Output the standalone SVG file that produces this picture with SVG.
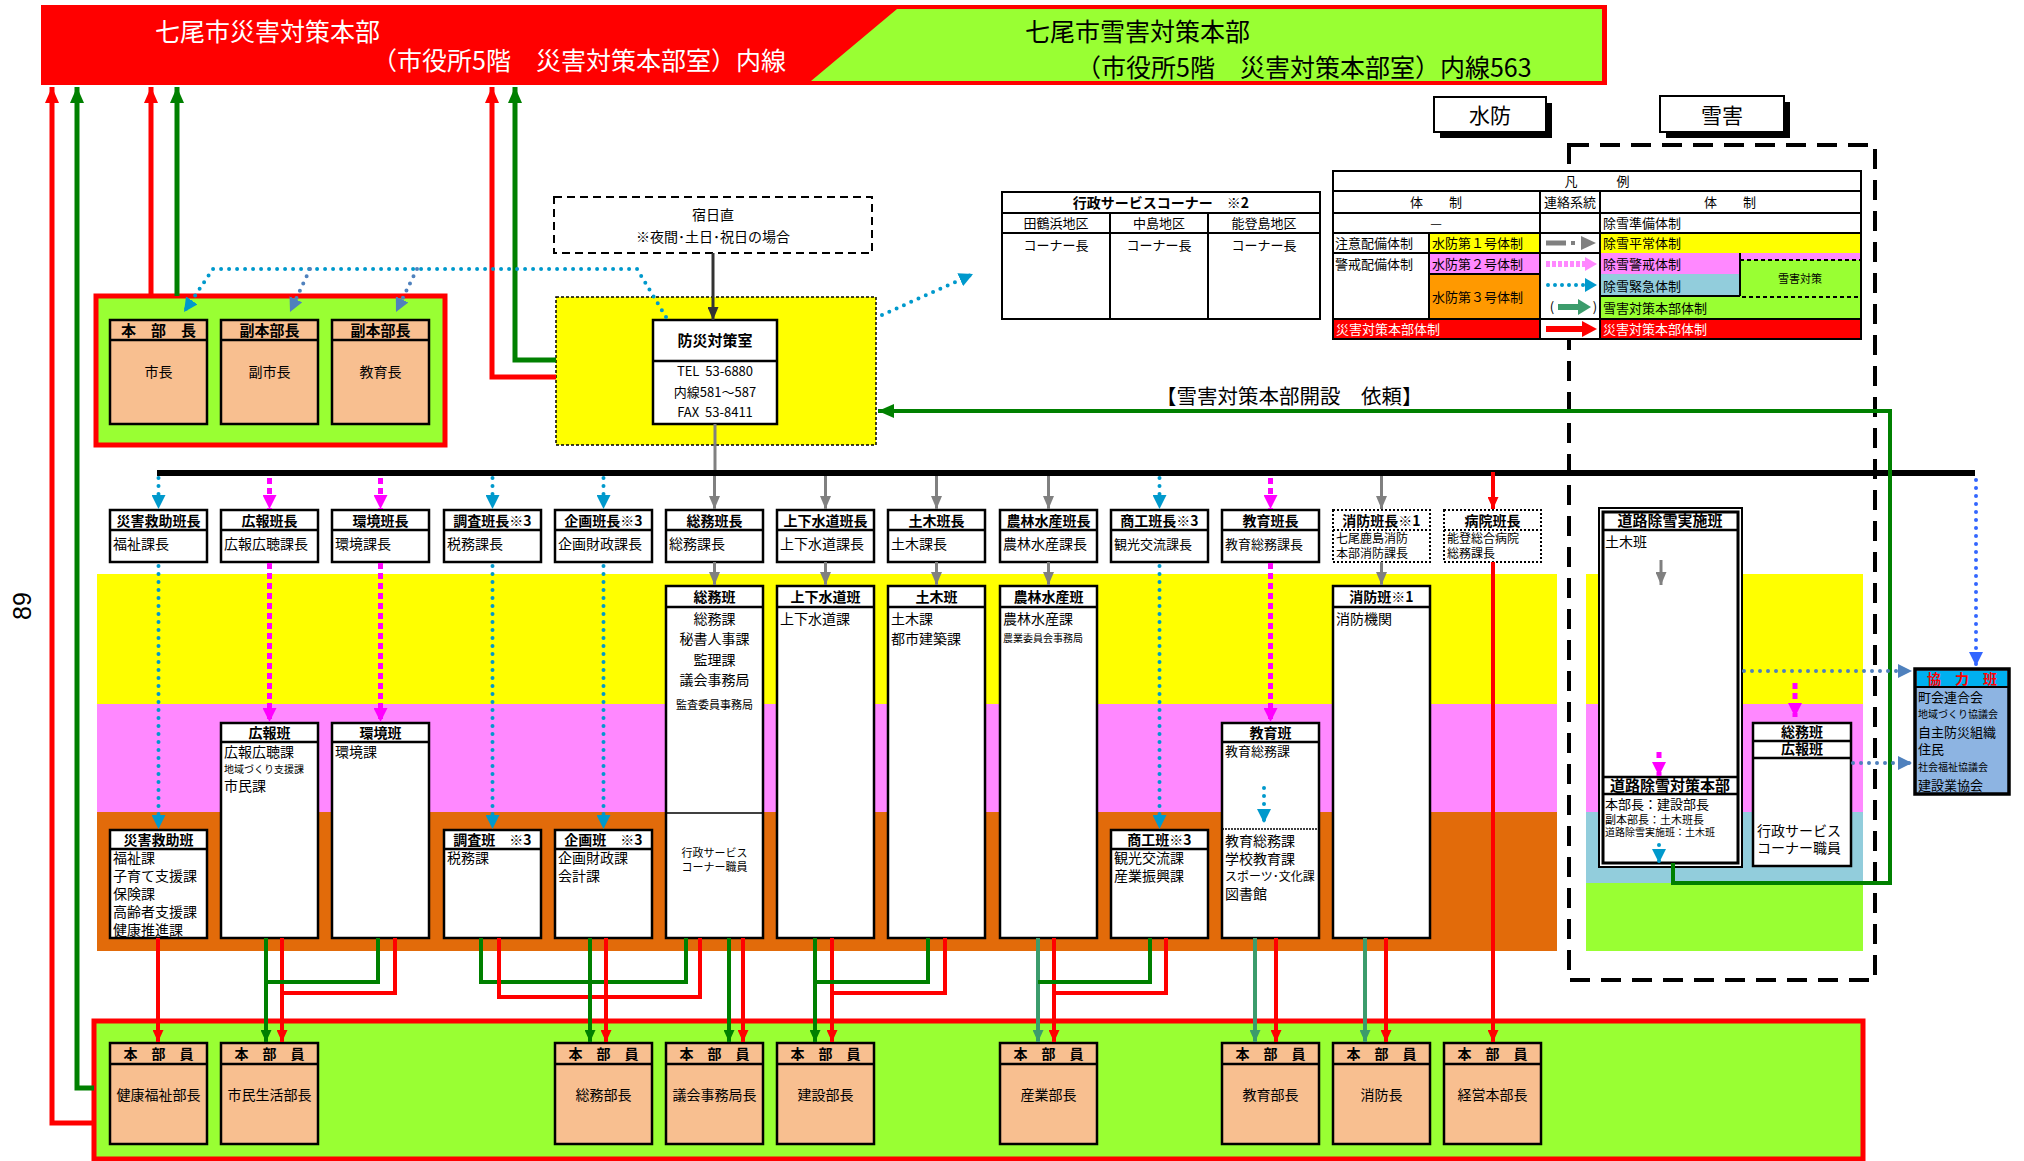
<svg xmlns="http://www.w3.org/2000/svg" width="2024" height="1161" viewBox="0 0 2024 1161">
<style>
text{font-family:"Noto Sans CJK JP","Noto Sans",sans-serif;fill:#000}
.b{font-weight:bold}
.c{text-anchor:middle}
.f15{font-size:15px}.f14{font-size:14px}.f13{font-size:13px}.f12{font-size:12px}.f11{font-size:11px}.f10{font-size:10px}
.box{fill:#fff;stroke:#000;stroke-width:2.5}
.dbox{fill:#fff;stroke:#000;stroke-width:2;stroke-dasharray:2 2}
.peach{fill:#F8BF90;stroke:#000;stroke-width:2.5}
.sep{stroke:#000;stroke-width:2.5}
.dsep{stroke:#000;stroke-width:2;stroke-dasharray:2 2}
.red{stroke:#f00;stroke-width:4;fill:none}
.grn{stroke:#008000;stroke-width:4;fill:none}
.teal{stroke:#3C9C6C;stroke-width:4;fill:none}
.redB{stroke:#f00;stroke-width:5;fill:none}
.grnB{stroke:#008000;stroke-width:5;fill:none}
.gray{stroke:#808080;stroke-width:3;fill:none}
.cyan{stroke:#0099CC;stroke-width:4;stroke-dasharray:0 8;stroke-linecap:round;fill:none}
.steel{stroke:#4F81BD;stroke-width:4;stroke-dasharray:0 8;stroke-linecap:round;fill:none}
.blue{stroke:#3366FF;stroke-width:4;stroke-dasharray:0 8;stroke-linecap:round;fill:none}
.mag{stroke:#FF00FF;stroke-width:5;stroke-dasharray:6 4;fill:none}
.tb{fill:none;stroke:#000;stroke-width:2}
</style>
<defs>
<marker id="aRB" viewBox="0 0 16 14" refX="16" refY="7" markerWidth="16" markerHeight="14" markerUnits="userSpaceOnUse" orient="auto"><path d="M0,0 L16,7 L0,14z" fill="#f00"/></marker>
<marker id="aGB" viewBox="0 0 16 14" refX="16" refY="7" markerWidth="16" markerHeight="14" markerUnits="userSpaceOnUse" orient="auto"><path d="M0,0 L16,7 L0,14z" fill="#008000"/></marker>
<marker id="aR" viewBox="0 0 12 11" refX="12" refY="5.5" markerWidth="12" markerHeight="11" markerUnits="userSpaceOnUse" orient="auto"><path d="M0,0 L12,5.5 L0,11z" fill="#f00"/></marker>
<marker id="aG" viewBox="0 0 12 11" refX="12" refY="5.5" markerWidth="12" markerHeight="11" markerUnits="userSpaceOnUse" orient="auto"><path d="M0,0 L12,5.5 L0,11z" fill="#008000"/></marker>
<marker id="aT" viewBox="0 0 12 11" refX="12" refY="5.5" markerWidth="12" markerHeight="11" markerUnits="userSpaceOnUse" orient="auto"><path d="M0,0 L12,5.5 L0,11z" fill="#3C9C6C"/></marker>
<marker id="aGr" viewBox="0 0 13 11" refX="13" refY="5.5" markerWidth="13" markerHeight="11" markerUnits="userSpaceOnUse" orient="auto"><path d="M0,0 L13,5.5 L0,11z" fill="#808080"/></marker>
<marker id="aC" viewBox="0 0 14 14" refX="14" refY="7" markerWidth="14" markerHeight="14" markerUnits="userSpaceOnUse" orient="auto"><path d="M0,0 L14,7 L0,14z" fill="#0099CC"/></marker>
<marker id="aS" viewBox="0 0 14 14" refX="14" refY="7" markerWidth="14" markerHeight="14" markerUnits="userSpaceOnUse" orient="auto"><path d="M0,0 L14,7 L0,14z" fill="#4F81BD"/></marker>
<marker id="aBl" viewBox="0 0 14 14" refX="14" refY="7" markerWidth="14" markerHeight="14" markerUnits="userSpaceOnUse" orient="auto"><path d="M0,0 L14,7 L0,14z" fill="#3366FF"/></marker>
<marker id="aM" viewBox="0 0 14 14" refX="14" refY="7" markerWidth="14" markerHeight="14" markerUnits="userSpaceOnUse" orient="auto"><path d="M0,0 L14,7 L0,14z" fill="#FF00FF"/></marker>
<marker id="aD" viewBox="0 0 13 11" refX="13" refY="5.5" markerWidth="13" markerHeight="11" markerUnits="userSpaceOnUse" orient="auto"><path d="M0,0 L13,5.5 L0,11z" fill="#333"/></marker>
</defs>
<rect width="2024" height="1161" fill="#fff"/>

<!-- header -->
<g id="header">
<rect x="41" y="5" width="1566" height="80" fill="#f00"/>
<polygon points="897,9 1602,9 1602,81 811,81" fill="#99FF33"/>
<text x="155" y="41" style="font-size:25px;fill:#fff">七尾市災害対策本部</text>
<text x="372" y="70" style="font-size:25px;fill:#fff">（市役所5階　災害対策本部室）内線</text>
<text x="1025" y="41" style="font-size:25px">七尾市雪害対策本部</text>
<text x="1076" y="77" style="font-size:25px">（市役所5階　災害対策本部室）内線563</text>
</g>

<text x="22" y="606" transform="rotate(-90 22 606)" class="c" style="font-size:25px;font-family:'Liberation Sans',sans-serif" dy="9">89</text>

<!-- colored bands -->
<g id="bands">
<rect x="97" y="574" width="1460" height="130" fill="#FFFF00"/>
<rect x="97" y="704" width="1460" height="108" fill="#FF88FF"/>
<rect x="97" y="812" width="1460" height="139" fill="#E26B0A"/>
<rect x="1586" y="574" width="277" height="130" fill="#FFFF00"/>
<rect x="1586" y="704" width="277" height="108" fill="#FF88FF"/>
<rect x="1586" y="812" width="277" height="71" fill="#92CDDC"/>
<rect x="1586" y="883" width="277" height="68" fill="#99FF33"/>
</g>

<!-- snow dashed area -->
<rect x="1569" y="145" width="306" height="835" fill="none" stroke="#000" stroke-width="4" stroke-dasharray="20 11"/>

<!-- 水防 / 雪害 labels -->
<g id="suibo"><rect x="1440" y="103" width="112" height="35" fill="#000"/><rect x="1434" y="97" width="112" height="35" fill="#fff" stroke="#000" stroke-width="2"/><text x="1490" y="123" class="c" style="font-size:21px">水防</text></g>
<g id="setsugai"><rect x="1666" y="102" width="124" height="36" fill="#000"/><rect x="1660" y="96" width="124" height="36" fill="#fff" stroke="#000" stroke-width="2"/><text x="1722" y="123" class="c" style="font-size:21px">雪害</text></g>

<!-- 行政サービスコーナー table -->
<g id="gyosei-table">
<rect x="1002" y="192" width="318" height="127" fill="#fff" stroke="#000" stroke-width="2"/>
<line x1="1002" y1="213" x2="1320" y2="213" class="tb"/>
<line x1="1002" y1="233" x2="1320" y2="233" class="tb"/>
<line x1="1110" y1="213" x2="1110" y2="319" class="tb"/>
<line x1="1208" y1="213" x2="1208" y2="319" class="tb"/>
<text x="1161" y="208" class="c b f14">行政サービスコーナー　※2</text>
<text x="1056" y="228" class="c f13">田鶴浜地区</text>
<text x="1159" y="228" class="c f13">中島地区</text>
<text x="1264" y="228" class="c f13">能登島地区</text>
<text x="1056" y="250" class="c f13">コーナー長</text>
<text x="1159" y="250" class="c f13">コーナー長</text>
<text x="1264" y="250" class="c f13">コーナー長</text>
</g>

<!-- 凡例 -->
<g id="legend">
<rect x="1333" y="171" width="528" height="168" fill="#fff"/>
<rect x="1429" y="233" width="111" height="20" fill="#FFFF00"/>
<rect x="1600" y="233" width="261" height="20" fill="#FFFF00"/>
<rect x="1429" y="253" width="111" height="21" fill="#FF88FF"/>
<rect x="1600" y="253" width="261" height="21" fill="#FF88FF"/>
<rect x="1429" y="274" width="111" height="45" fill="#FF9900"/>
<rect x="1600" y="274" width="140" height="22" fill="#92CDDC"/>
<rect x="1600" y="296" width="261" height="23" fill="#99FF33"/>
<rect x="1333" y="319" width="207" height="20" fill="#f00"/>
<rect x="1600" y="319" width="261" height="20" fill="#f00"/>
<rect x="1740" y="260" width="121" height="37" fill="#99FF33" stroke="#000" stroke-width="2" stroke-dasharray="4 3"/>
<rect x="1333" y="171" width="528" height="168" class="tb"/>
<line x1="1333" y1="191" x2="1861" y2="191" class="tb"/>
<line x1="1333" y1="213" x2="1861" y2="213" class="tb"/>
<line x1="1333" y1="233" x2="1861" y2="233" class="tb"/>
<line x1="1333" y1="253" x2="1600" y2="253" class="tb"/>
<line x1="1429" y1="274" x2="1540" y2="274" class="tb"/>
<line x1="1600" y1="296" x2="1740" y2="296" class="tb"/>
<line x1="1333" y1="319" x2="1861" y2="319" class="tb"/>
<line x1="1540" y1="191" x2="1540" y2="339" class="tb"/>
<line x1="1600" y1="191" x2="1600" y2="339" class="tb"/>
<line x1="1429" y1="233" x2="1429" y2="319" class="tb"/>
<line x1="1740" y1="253" x2="1740" y2="296" class="tb"/>
<text x="1597" y="186" class="c f13">凡　　　例</text>
<text x="1436" y="207" class="c f13">体　　制</text>
<text x="1570" y="207" class="c f13">連絡系統</text>
<text x="1730" y="207" class="c f13">体　　制</text>
<text x="1436" y="228" class="c f13">—</text>
<text x="1603" y="228" class="f13">除雪準備体制</text>
<text x="1335" y="248" class="f13">注意配備体制</text>
<text x="1432" y="248" class="f13">水防第１号体制</text>
<text x="1603" y="248" class="f13">除雪平常体制</text>
<text x="1335" y="269" class="f13">警戒配備体制</text>
<text x="1432" y="269" class="f13">水防第２号体制</text>
<text x="1603" y="269" class="f13">除雪警戒体制</text>
<text x="1432" y="302" class="f13">水防第３号体制</text>
<text x="1603" y="291" class="f13">除雪緊急体制</text>
<text x="1800" y="283" class="c f11">雪害対策</text>
<text x="1603" y="313" class="f13">雪害対策本部体制</text>
<text x="1336" y="334" class="f13" style="fill:#fff">災害対策本部体制</text>
<text x="1603" y="334" class="f13" style="fill:#fff">災害対策本部体制</text>
<!-- legend arrows -->
<line x1="1546" y1="243" x2="1566" y2="243" stroke="#808080" stroke-width="5"/>
<rect x="1571" y="241" width="4" height="4" fill="#808080"/>
<polygon points="1581,236 1596,243 1581,250" fill="#808080"/>
<line x1="1546" y1="264" x2="1585" y2="264" stroke="#FF88FF" stroke-width="6" stroke-dasharray="4 2"/>
<polygon points="1585,257 1597,264 1585,271" fill="#FF88FF"/>
<line x1="1548" y1="285" x2="1584" y2="285" stroke="#0099CC" stroke-width="4" stroke-dasharray="0 7" stroke-linecap="round"/>
<polygon points="1585,278 1597,285 1585,292" fill="#0099CC"/>
<text x="1552" y="312" class="c f13">(</text>
<line x1="1558" y1="307" x2="1580" y2="307" stroke="#3C9C6C" stroke-width="6"/>
<polygon points="1578,299 1591,307 1578,315" fill="#3C9C6C"/>
<text x="1595" y="312" class="c f13">)</text>
<line x1="1546" y1="329" x2="1584" y2="329" stroke="#f00" stroke-width="6"/>
<polygon points="1582,321 1597,329 1582,337" fill="#f00"/>
</g>

<!-- top-left 本部長 group -->
<g id="honbucho-group">
<rect x="96" y="296" width="349" height="149" fill="#99FF33" stroke="#f00" stroke-width="5"/>
<rect x="110" y="320" width="97" height="104" class="peach"/><line x1="110" y1="340" x2="207" y2="340" class="sep"/>
<text x="158.5" y="336" class="c b f15">本　部　長</text><text x="158.5" y="377" class="c f14">市長</text>
<rect x="221" y="320" width="97" height="104" class="peach"/><line x1="221" y1="340" x2="318" y2="340" class="sep"/>
<text x="269.5" y="336" class="c b f15">副本部長</text><text x="269.5" y="377" class="c f14">副市長</text>
<rect x="332" y="320" width="97" height="104" class="peach"/><line x1="332" y1="340" x2="429" y2="340" class="sep"/>
<text x="380.5" y="336" class="c b f15">副本部長</text><text x="380.5" y="377" class="c f14">教育長</text>
</g>

<!-- 防災対策室 -->
<g id="bosai">
<rect x="556" y="297" width="320" height="148" fill="#FFFF00" stroke="#000" stroke-width="1.5" stroke-dasharray="3 2"/>
<rect x="653" y="320" width="124" height="104" class="box"/>
<line x1="653" y1="361" x2="777" y2="361" class="sep"/>
<text x="715" y="346" class="c b f15">防災対策室</text>
<text x="715" y="376" class="c f13">TEL&#160;&#160;53-6880</text>
<text x="715" y="397" class="c f13">内線581～587</text>
<text x="715" y="417" class="c f13">FAX&#160;&#160;53-8411</text>
</g>

<g id="shukujitsu">
<rect x="554" y="197" width="318" height="56" fill="#fff" stroke="#000" stroke-width="2" stroke-dasharray="8 5"/>
<text x="713" y="220" class="c f14">宿日直</text>
<text x="713" y="242" class="c f14">※夜間･土日･祝日の場合</text>
</g>

<!-- bar -->
<rect id="bar" x="157" y="470" width="1818" height="6" fill="#000"/>

<!-- 班長 row -->
<g id="hancho-row">
<g id="k0h"><rect x="110" y="510" width="97" height="52" class="box"/><line x1="110" y1="530" x2="207" y2="530" class="sep"/><text x="158.5" y="526" class="c b f14">災害救助班長</text><text x="113" y="549" class="f14">福祉課長</text></g>
<g id="k1h"><rect x="221" y="510" width="97" height="52" class="box"/><line x1="221" y1="530" x2="318" y2="530" class="sep"/><text x="269.5" y="526" class="c b f14">広報班長</text><text x="224" y="549" class="f14">広報広聴課長</text></g>
<g id="k2h"><rect x="332" y="510" width="97" height="52" class="box"/><line x1="332" y1="530" x2="429" y2="530" class="sep"/><text x="380.5" y="526" class="c b f14">環境班長</text><text x="335" y="549" class="f14">環境課長</text></g>
<g id="k3h"><rect x="444" y="510" width="97" height="52" class="box"/><line x1="444" y1="530" x2="541" y2="530" class="sep"/><text x="492.5" y="526" class="c b f14">調査班長※3</text><text x="447" y="549" class="f14">税務課長</text></g>
<g id="k4h"><rect x="555" y="510" width="97" height="52" class="box"/><line x1="555" y1="530" x2="652" y2="530" class="sep"/><text x="603.5" y="526" class="c b f14">企画班長※3</text><text x="558" y="549" class="f14">企画財政課長</text></g>
<g id="k5h"><rect x="666" y="510" width="97" height="52" class="box"/><line x1="666" y1="530" x2="763" y2="530" class="sep"/><text x="714.5" y="526" class="c b f14">総務班長</text><text x="669" y="549" class="f14">総務課長</text></g>
<g id="k6h"><rect x="777" y="510" width="97" height="52" class="box"/><line x1="777" y1="530" x2="874" y2="530" class="sep"/><text x="825.5" y="526" class="c b f14">上下水道班長</text><text x="780" y="549" class="f14">上下水道課長</text></g>
<g id="k7h"><rect x="888" y="510" width="97" height="52" class="box"/><line x1="888" y1="530" x2="985" y2="530" class="sep"/><text x="936.5" y="526" class="c b f14">土木班長</text><text x="891" y="549" class="f14">土木課長</text></g>
<g id="k8h"><rect x="1000" y="510" width="97" height="52" class="box"/><line x1="1000" y1="530" x2="1097" y2="530" class="sep"/><text x="1048.5" y="526" class="c b f14">農林水産班長</text><text x="1003" y="549" class="f14">農林水産課長</text></g>
<g id="k9h"><rect x="1111" y="510" width="97" height="52" class="box"/><line x1="1111" y1="530" x2="1208" y2="530" class="sep"/><text x="1159.5" y="526" class="c b f14">商工班長※3</text><text x="1114" y="549" class="f13">観光交流課長</text></g>
<g id="k10h"><rect x="1222" y="510" width="97" height="52" class="box"/><line x1="1222" y1="530" x2="1319" y2="530" class="sep"/><text x="1270.5" y="526" class="c b f14">教育班長</text><text x="1225" y="549" class="f13">教育総務課長</text></g>
<g id="k11h"><rect x="1333" y="510" width="97" height="52" class="dbox"/><line x1="1333" y1="530" x2="1430" y2="530" class="dsep"/><text x="1381.5" y="526" class="c b f14">消防班長※1</text><text x="1336" y="543" class="f12">七尾鹿島消防</text><text x="1336" y="558" class="f12">本部消防課長</text></g>
<g id="k12h"><rect x="1444" y="510" width="97" height="52" class="dbox"/><line x1="1444" y1="530" x2="1541" y2="530" class="dsep"/><text x="1492.5" y="526" class="c b f14">病院班長</text><text x="1447" y="543" class="f12">能登総合病院</text><text x="1447" y="558" class="f12">総務課長</text></g>
</g>

<!-- 班 row -->
<g id="han-row">
<g id="k0"><rect x="110" y="830" width="97" height="108" class="box"/><line x1="110" y1="849" x2="207" y2="849" class="sep"/><text x="158.5" y="845" class="c b f14">災害救助班</text>
<text x="113" y="863" class="f14">福祉課</text><text x="113" y="881" class="f14">子育て支援課</text><text x="113" y="899" class="f14">保険課</text><text x="113" y="917" class="f14">高齢者支援課</text><text x="113" y="935" class="f14">健康推進課</text></g>
<g id="k1"><rect x="221" y="723" width="97" height="215" class="box"/><line x1="221" y1="742" x2="318" y2="742" class="sep"/><text x="269.5" y="738" class="c b f14">広報班</text>
<text x="224" y="757" class="f14">広報広聴課</text><text x="224" y="773" class="f10">地域づくり支援課</text><text x="224" y="791" class="f14">市民課</text></g>
<g id="k2"><rect x="332" y="723" width="97" height="215" class="box"/><line x1="332" y1="742" x2="429" y2="742" class="sep"/><text x="380.5" y="738" class="c b f14">環境班</text>
<text x="335" y="757" class="f14">環境課</text></g>
<g id="k3"><rect x="444" y="830" width="97" height="108" class="box"/><line x1="444" y1="849" x2="541" y2="849" class="sep"/><text x="492.5" y="845" class="c b f14">調査班　※3</text>
<text x="447" y="863" class="f14">税務課</text></g>
<g id="k4"><rect x="555" y="830" width="97" height="108" class="box"/><line x1="555" y1="849" x2="652" y2="849" class="sep"/><text x="603.5" y="845" class="c b f14">企画班　※3</text>
<text x="558" y="863" class="f14">企画財政課</text><text x="558" y="881" class="f14">会計課</text></g>
<g id="k5"><rect x="666" y="586" width="97" height="352" class="box"/><line x1="666" y1="607" x2="763" y2="607" class="sep"/><text x="714.5" y="602" class="c b f14">総務班</text>
<text x="714.5" y="624" class="c f14">総務課</text><text x="714.5" y="644" class="c f14">秘書人事課</text><text x="714.5" y="665" class="c f14">監理課</text><text x="714.5" y="685" class="c f14">議会事務局</text><text x="714.5" y="709" class="c f11">監査委員事務局</text>
<line x1="666" y1="813" x2="763" y2="813" stroke="#000" stroke-width="1.5"/>
<text x="714.5" y="857" class="c f11">行政サービス</text><text x="714.5" y="871" class="c f11">コーナー職員</text></g>
<g id="k6"><rect x="777" y="586" width="97" height="352" class="box"/><line x1="777" y1="607" x2="874" y2="607" class="sep"/><text x="825.5" y="602" class="c b f14">上下水道班</text>
<text x="780" y="624" class="f14">上下水道課</text></g>
<g id="k7"><rect x="888" y="586" width="97" height="352" class="box"/><line x1="888" y1="607" x2="985" y2="607" class="sep"/><text x="936.5" y="602" class="c b f14">土木班</text>
<text x="891" y="624" class="f14">土木課</text><text x="891" y="644" class="f14">都市建築課</text></g>
<g id="k8"><rect x="1000" y="586" width="97" height="352" class="box"/><line x1="1000" y1="607" x2="1097" y2="607" class="sep"/><text x="1048.5" y="602" class="c b f14">農林水産班</text>
<text x="1003" y="624" class="f14">農林水産課</text><text x="1003" y="642" class="f10">農業委員会事務局</text></g>
<g id="k9"><rect x="1111" y="830" width="97" height="108" class="box"/><line x1="1111" y1="849" x2="1208" y2="849" class="sep"/><text x="1159.5" y="845" class="c b f14">商工班※3</text>
<text x="1114" y="863" class="f14">観光交流課</text><text x="1114" y="881" class="f14">産業振興課</text></g>
<g id="k10"><rect x="1222" y="723" width="97" height="215" class="box"/><line x1="1222" y1="742" x2="1319" y2="742" class="sep"/><text x="1270.5" y="738" class="c b f14">教育班</text>
<text x="1225" y="756" class="f13">教育総務課</text>
<line x1="1222" y1="829" x2="1319" y2="829" stroke="#000" stroke-width="1.5" stroke-dasharray="2 1"/>
<text x="1225" y="846" class="f14">教育総務課</text><text x="1225" y="864" class="f14">学校教育課</text><text x="1225" y="881" class="f12">スポーツ･文化課</text><text x="1225" y="899" class="f14">図書館</text></g>
<g id="k11"><rect x="1333" y="586" width="97" height="352" class="box"/><line x1="1333" y1="607" x2="1430" y2="607" class="sep"/><text x="1381.5" y="602" class="c b f14">消防班※1</text>
<text x="1336" y="624" class="f14">消防機関</text></g>
</g>

<!-- snow side -->
<g id="doro">
<rect x="1599" y="508" width="143" height="359" fill="#fff" stroke="#000" stroke-width="2"/>
<rect x="1603" y="512" width="135" height="351" fill="none" stroke="#000" stroke-width="3"/>
<line x1="1603" y1="530" x2="1738" y2="530" class="sep"/>
<text x="1670" y="526" class="c b f15">道路除雪実施班</text>
<text x="1605" y="547" class="f14">土木班</text>
<line x1="1603" y1="777" x2="1738" y2="777" class="sep"/>
<line x1="1603" y1="794" x2="1738" y2="794" class="sep"/>
<text x="1670" y="791" class="c b f15">道路除雪対策本部</text>
<text x="1605" y="809" class="f13">本部長：建設部長</text>
<text x="1605" y="824" class="f11">副本部長：土木班長</text>
<text x="1605" y="836" class="f10">道路除雪実施班：土木班</text>
</g>
<g id="somu-koho">
<rect x="1753" y="723" width="98" height="143" class="box"/>
<line x1="1753" y1="741" x2="1851" y2="741" class="sep"/>
<line x1="1753" y1="758" x2="1851" y2="758" class="sep"/>
<text x="1802" y="737" class="c b f14">総務班</text>
<text x="1802" y="754" class="c b f14">広報班</text>
<text x="1757" y="836" class="f14">行政サービス</text>
<text x="1757" y="853" class="f14">コーナー職員</text>
</g>
<g id="kyoryoku">
<rect x="1915" y="669" width="94" height="125" fill="#8DB4E2" stroke="#000" stroke-width="3.5"/>
<rect x="1917" y="671" width="90" height="16" fill="#00B0F0"/>
<line x1="1915" y1="687" x2="2009" y2="687" stroke="#000" stroke-width="2"/>
<text x="1962" y="684" class="c b f14" style="fill:#f00">協　力　班</text>
<text x="1918" y="702" class="f13">町会連合会</text>
<text x="1918" y="718" class="f10">地域づくり協議会</text>
<text x="1918" y="737" class="f13">自主防災組織</text>
<text x="1918" y="754" class="f13">住民</text>
<text x="1918" y="771" class="f10">社会福祉協議会</text>
<text x="1918" y="790" class="f13">建設業協会</text>
</g>

<text x="1156" y="404" style="font-size:20.5px">【雪害対策本部開設　依頼】</text>

<!-- bottom 本部員 -->
<g id="honbuin">
<rect x="94" y="1021" width="1769" height="138" fill="#99FF33" stroke="#f00" stroke-width="5"/>
<g id="b0"><rect x="110" y="1043" width="97" height="101" class="peach"/><line x1="110" y1="1064" x2="207" y2="1064" class="sep"/><text x="158.5" y="1059" class="c b f14">本　部　員</text><text x="158.5" y="1100" class="c f14">健康福祉部長</text></g>
<g id="b1"><rect x="221" y="1043" width="97" height="101" class="peach"/><line x1="221" y1="1064" x2="318" y2="1064" class="sep"/><text x="269.5" y="1059" class="c b f14">本　部　員</text><text x="269.5" y="1100" class="c f14">市民生活部長</text></g>
<g id="b4"><rect x="555" y="1043" width="97" height="101" class="peach"/><line x1="555" y1="1064" x2="652" y2="1064" class="sep"/><text x="603.5" y="1059" class="c b f14">本　部　員</text><text x="603.5" y="1100" class="c f14">総務部長</text></g>
<g id="b5"><rect x="666" y="1043" width="97" height="101" class="peach"/><line x1="666" y1="1064" x2="763" y2="1064" class="sep"/><text x="714.5" y="1059" class="c b f14">本　部　員</text><text x="714.5" y="1100" class="c f14">議会事務局長</text></g>
<g id="b6"><rect x="777" y="1043" width="97" height="101" class="peach"/><line x1="777" y1="1064" x2="874" y2="1064" class="sep"/><text x="825.5" y="1059" class="c b f14">本　部　員</text><text x="825.5" y="1100" class="c f14">建設部長</text></g>
<g id="b8"><rect x="1000" y="1043" width="97" height="101" class="peach"/><line x1="1000" y1="1064" x2="1097" y2="1064" class="sep"/><text x="1048.5" y="1059" class="c b f14">本　部　員</text><text x="1048.5" y="1100" class="c f14">産業部長</text></g>
<g id="b10"><rect x="1222" y="1043" width="97" height="101" class="peach"/><line x1="1222" y1="1064" x2="1319" y2="1064" class="sep"/><text x="1270.5" y="1059" class="c b f14">本　部　員</text><text x="1270.5" y="1100" class="c f14">教育部長</text></g>
<g id="b11"><rect x="1333" y="1043" width="97" height="101" class="peach"/><line x1="1333" y1="1064" x2="1430" y2="1064" class="sep"/><text x="1381.5" y="1059" class="c b f14">本　部　員</text><text x="1381.5" y="1100" class="c f14">消防長</text></g>
<g id="b12"><rect x="1444" y="1043" width="97" height="101" class="peach"/><line x1="1444" y1="1064" x2="1541" y2="1064" class="sep"/><text x="1492.5" y="1059" class="c b f14">本　部　員</text><text x="1492.5" y="1100" class="c f14">経営本部長</text></g>
</g>

<!-- connectors -->
<g id="connectors">
<path d="M94,1123 H52 V87" class="redB" marker-end="url(#aRB)"/>
<path d="M94,1088 H77 V87" class="grnB" marker-end="url(#aGB)"/>
<path d="M151,296 V87" class="redB" marker-end="url(#aRB)"/>
<path d="M177,296 V87" class="grnB" marker-end="url(#aGB)"/>
<path d="M556,377 H492 V87" class="redB" marker-end="url(#aRB)"/>
<path d="M556,360 H515 V87" class="grnB" marker-end="url(#aGB)"/>
<line x1="713" y1="253" x2="713" y2="320" stroke="#333" stroke-width="3" marker-end="url(#aD)"/>
<line x1="715" y1="424" x2="715" y2="470" class="gray"/>
<path d="M666,317 L637,269 L213,269 L184,312" class="cyan" marker-end="url(#aC)"/>
<path d="M310,269 L290,312" class="steel" marker-end="url(#aS)"/>
<path d="M417,269 L396,312" class="steel" marker-end="url(#aS)"/>
<path d="M882,315 L973,274" class="cyan" marker-end="url(#aC)"/>
<path d="M1673,863 V883 H1890 V411 H878" class="grn" marker-end="url(#aGB)"/>
<line x1="158.5" y1="478" x2="158.5" y2="509" class="cyan" marker-end="url(#aC)"/>
<line x1="269.5" y1="478" x2="269.5" y2="509" class="mag" marker-end="url(#aM)"/>
<line x1="380.5" y1="478" x2="380.5" y2="509" class="mag" marker-end="url(#aM)"/>
<line x1="492.5" y1="478" x2="492.5" y2="509" class="cyan" marker-end="url(#aC)"/>
<line x1="603.5" y1="478" x2="603.5" y2="509" class="cyan" marker-end="url(#aC)"/>
<line x1="714.5" y1="476" x2="714.5" y2="509" class="gray" marker-end="url(#aGr)"/>
<line x1="825.5" y1="476" x2="825.5" y2="509" class="gray" marker-end="url(#aGr)"/>
<line x1="936.5" y1="476" x2="936.5" y2="509" class="gray" marker-end="url(#aGr)"/>
<line x1="1048.5" y1="476" x2="1048.5" y2="509" class="gray" marker-end="url(#aGr)"/>
<line x1="1159.5" y1="478" x2="1159.5" y2="509" class="cyan" marker-end="url(#aC)"/>
<line x1="1270.5" y1="478" x2="1270.5" y2="509" class="mag" marker-end="url(#aM)"/>
<line x1="1381.5" y1="476" x2="1381.5" y2="509" class="gray" marker-end="url(#aGr)"/>
<line x1="1493" y1="472" x2="1493" y2="509" class="red" marker-end="url(#aR)"/>
<line x1="158.5" y1="566" x2="158.5" y2="829" class="cyan" marker-end="url(#aC)"/>
<line x1="269.5" y1="563" x2="269.5" y2="722" class="mag" marker-end="url(#aM)"/>
<line x1="380.5" y1="563" x2="380.5" y2="722" class="mag" marker-end="url(#aM)"/>
<line x1="492.5" y1="566" x2="492.5" y2="829" class="cyan" marker-end="url(#aC)"/>
<line x1="603.5" y1="566" x2="603.5" y2="829" class="cyan" marker-end="url(#aC)"/>
<line x1="714.5" y1="562" x2="714.5" y2="585" class="gray" marker-end="url(#aGr)"/>
<line x1="825.5" y1="562" x2="825.5" y2="585" class="gray" marker-end="url(#aGr)"/>
<line x1="936.5" y1="562" x2="936.5" y2="585" class="gray" marker-end="url(#aGr)"/>
<line x1="1048.5" y1="562" x2="1048.5" y2="585" class="gray" marker-end="url(#aGr)"/>
<line x1="1159.5" y1="566" x2="1159.5" y2="829" class="cyan" marker-end="url(#aC)"/>
<line x1="1270.5" y1="563" x2="1270.5" y2="722" class="mag" marker-end="url(#aM)"/>
<line x1="1264" y1="788" x2="1264" y2="823" class="cyan" marker-end="url(#aC)"/>
<line x1="1381.5" y1="562" x2="1381.5" y2="585" class="gray" marker-end="url(#aGr)"/>
<line x1="1493" y1="562" x2="1493" y2="1042" class="red" marker-end="url(#aR)"/>
<line x1="158" y1="938" x2="158" y2="1042" class="red" marker-end="url(#aR)"/>
<line x1="266" y1="938" x2="266" y2="1042" class="grn" marker-end="url(#aG)"/>
<line x1="282" y1="938" x2="282" y2="1042" class="red" marker-end="url(#aR)"/>
<path d="M378,938 V982 H266" class="grn"/>
<path d="M395,938 V993 H282" class="red"/>
<path d="M481,938 V982 H686 V938" class="grn"/>
<path d="M499,938 V997 H700 V938" class="red"/>
<line x1="590" y1="938" x2="590" y2="1042" class="grn" marker-end="url(#aG)"/>
<line x1="606" y1="938" x2="606" y2="1042" class="red" marker-end="url(#aR)"/>
<line x1="729" y1="938" x2="729" y2="1042" class="grn" marker-end="url(#aG)"/>
<line x1="743" y1="938" x2="743" y2="1042" class="red" marker-end="url(#aR)"/>
<line x1="815" y1="938" x2="815" y2="1042" class="grn" marker-end="url(#aG)"/>
<line x1="832" y1="938" x2="832" y2="1042" class="red" marker-end="url(#aR)"/>
<path d="M928,938 V982 H815" class="grn"/>
<path d="M945,938 V993 H832" class="red"/>
<line x1="1038" y1="938" x2="1038" y2="1042" class="teal" marker-end="url(#aT)"/>
<line x1="1054" y1="938" x2="1054" y2="1042" class="red" marker-end="url(#aR)"/>
<path d="M1150,938 V982 H1038" class="grn"/>
<path d="M1166,938 V993 H1054" class="red"/>
<line x1="1255" y1="938" x2="1255" y2="1042" class="teal" marker-end="url(#aT)"/>
<line x1="1276" y1="938" x2="1276" y2="1042" class="red" marker-end="url(#aR)"/>
<line x1="1365" y1="938" x2="1365" y2="1042" class="teal" marker-end="url(#aT)"/>
<line x1="1386" y1="938" x2="1386" y2="1042" class="red" marker-end="url(#aR)"/>
<line x1="1661" y1="560" x2="1661" y2="585" class="gray" marker-end="url(#aGr)"/>
<line x1="1659" y1="752" x2="1659" y2="776" class="mag" marker-end="url(#aM)"/>
<line x1="1659" y1="845" x2="1659" y2="863" class="cyan" marker-end="url(#aC)"/>
<line x1="1795" y1="683" x2="1795" y2="717" class="mag" marker-end="url(#aM)"/>
<line x1="1744" y1="671" x2="1912" y2="671" class="steel" marker-end="url(#aS)"/>
<line x1="1853" y1="763" x2="1912" y2="763" class="steel" marker-end="url(#aS)"/>
<line x1="1976" y1="480" x2="1976" y2="666" class="blue" marker-end="url(#aBl)"/>
</g>
</svg>
